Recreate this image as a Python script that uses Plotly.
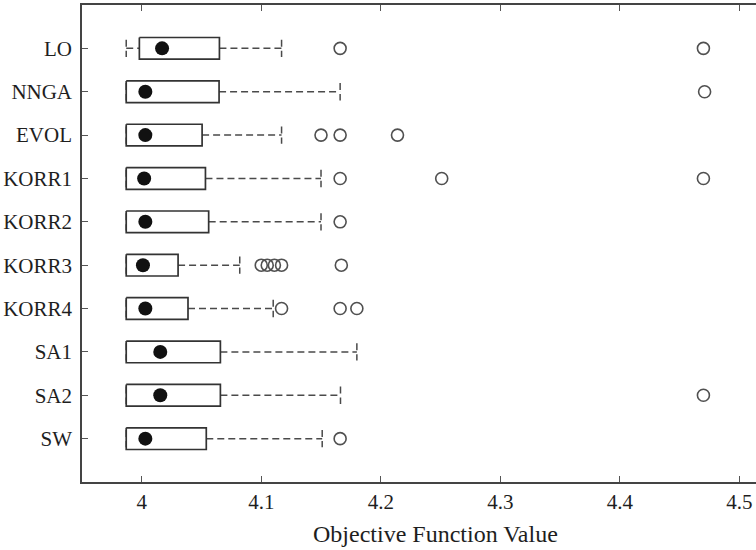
import plotly.graph_objects as go

categories = ["LO", "NNGA", "EVOL", "KORR1", "KORR2", "KORR3", "KORR4", "SA1", "SA2", "SW"]
lower_whisker = [3.987, 3.987, 3.987, 3.987, 3.987, 3.987, 3.987, 3.987, 3.987, 3.987]
q1 = [3.998, 3.987, 3.987, 3.987, 3.987, 3.987, 3.987, 3.987, 3.987, 3.987]
median = [4.017, 4.003, 4.003, 4.002, 4.003, 4.001, 4.003, 4.0155, 4.0155, 4.003]
q3 = [4.065, 4.0647, 4.0505, 4.0533, 4.056, 4.0304, 4.0387, 4.0658, 4.0658, 4.054]
upper_whisker = [4.117, 4.166, 4.117, 4.150, 4.150, 4.082, 4.110, 4.180, 4.1663, 4.151]
outliers = [
    [4.166, 4.47],
    [4.471],
    [4.150, 4.166, 4.214],
    [4.166, 4.251, 4.470],
    [4.166],
    [4.100, 4.105, 4.111, 4.117, 4.167],
    [4.117, 4.166, 4.180],
    [],
    [4.470],
    [4.166],
]
x_ticks = [4, 4.1, 4.2, 4.3, 4.4, 4.5]
x_tick_labels = ["4", "4.1", "4.2", "4.3", "4.4", "4.5"]
x_title = "Objective Function Value"

BOX_H = 0.25
CAP_H = 0.2
pos = list(range(len(categories)))

box_x, box_y = [], []
wh_x, wh_y = [], []
for i, p in enumerate(pos):
    box_x += [q1[i], q3[i], q3[i], q1[i], q1[i], None]
    box_y += [p - BOX_H, p - BOX_H, p + BOX_H, p + BOX_H, p - BOX_H, None]
    wh_x += [lower_whisker[i], q1[i], None, q3[i], upper_whisker[i], None]
    wh_y += [p, p, None, p, p, None]
    wh_x += [lower_whisker[i], lower_whisker[i], None, upper_whisker[i], upper_whisker[i], None]
    wh_y += [p - CAP_H, p + CAP_H, None, p - CAP_H, p + CAP_H, None]

out_x, out_y = [], []
for i, p in enumerate(pos):
    for v in outliers[i]:
        out_x.append(v)
        out_y.append(p)

fig = go.Figure()
fig.add_trace(go.Scatter(x=wh_x, y=wh_y, mode="lines",
                         line=dict(color="#4a4a4a", width=1.5, dash="7px,4px"),
                         hoverinfo="skip", showlegend=False))
fig.add_trace(go.Scatter(x=box_x, y=box_y, mode="lines",
                         line=dict(color="#333333", width=1.7),
                         hoverinfo="skip", showlegend=False))
fig.add_trace(go.Scatter(x=median, y=pos, mode="markers",
                         marker=dict(color="#111111", size=14, line=dict(width=0)),
                         showlegend=False))
fig.add_trace(go.Scatter(x=out_x, y=out_y, mode="markers",
                         marker=dict(symbol="circle-open", color="#505050", size=12,
                                     line=dict(width=1.6, color="#505050")),
                         showlegend=False))

font_family = "Liberation Serif, Times New Roman, serif"
fig.update_layout(
    width=756, height=550,
    margin=dict(l=82, r=0, t=5, b=68, autoexpand=False),
    paper_bgcolor="white", plot_bgcolor="white",
    font=dict(family=font_family, size=21, color="#1e1e1e"),
    xaxis=dict(
        range=[3.95, 4.514],
        tickvals=x_ticks, ticktext=x_tick_labels,
        ticks="inside", ticklen=6, tickwidth=1.3, tickcolor="#555555",
        showline=True, linecolor="#444444", linewidth=1.5, mirror="ticks",
        showgrid=False, zeroline=False, automargin=False,
        tickfont=dict(family=font_family, size=21),
    ),
    yaxis=dict(
        range=[10, -1],
        tickvals=pos, ticktext=categories,
        ticks="inside", ticklen=6, tickwidth=1.3, tickcolor="#555555",
        showline=True, linecolor="#444444", linewidth=1.5, mirror=False,
        showgrid=False, zeroline=False, automargin=False,
        ticklabelstandoff=4,
        tickfont=dict(family=font_family, size=21),
    ),
    annotations=[dict(
        text=x_title, xref="paper", yref="paper", x=0.525, y=-0.11,
        xanchor="center", yanchor="middle", showarrow=False,
        font=dict(family=font_family, size=24, color="#1e1e1e"),
    )],
)

fig.write_html("out.html", config={"displayModeBar": False},
               post_script="document.body.style.margin='0px';document.body.style.overflow='hidden';")
